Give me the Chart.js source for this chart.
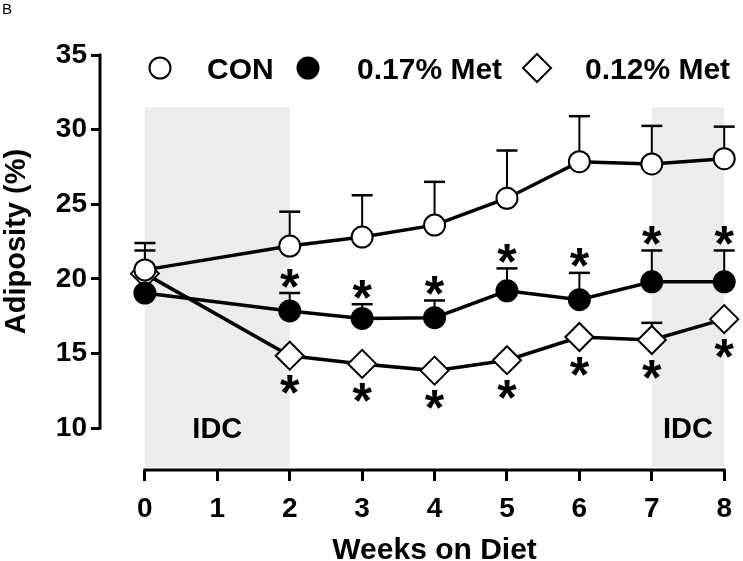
<!DOCTYPE html>
<html>
<head>
<meta charset="utf-8">
<script src="https://cdn.jsdelivr.net/npm/chart.js@4.4.1/dist/chart.umd.min.js"></script>
<style>
  html, body { margin: 0; padding: 0; background: #fff; }
  #wrap { position: relative; width: 743px; height: 561px; }
</style>
</head>
<body>
<div id="wrap"><canvas id="adiposityChart"></canvas></div>
<script>
// Weeks on diet and axis ticks
const weeks = [0, 2, 3, 4, 5, 6, 7, 8];
const xTicks = [0, 1, 2, 3, 4, 5, 6, 7, 8];
const yTicks = [10, 15, 20, 25, 30, 35];

// Adiposity (%) : mean and SEM (upper bar only)
const conMean   = [20.6, 22.2, 22.8, 23.6, 25.4, 27.85, 27.7, 28.05];
const conSem    = [1.8, 2.3, 2.8, 2.9, 3.2, 3.05, 2.55, 2.15];
const met17Mean = [19.05, 17.85, 17.35, 17.4, 19.2, 18.6, 19.8, 19.8];
const met17Sem  = [0, 1.2, 0.95, 1.15, 1.5, 1.8, 2.1, 2.1];
const met12Mean = [20.35, 14.85, 14.3, 13.85, 14.55, 16.1, 15.9, 17.3];
const met12Sem  = [1.55, 0, 0, 0, 0, 0, 1.15, 0];

// significance vs CON
const met17Sig = [0, 1, 1, 1, 1, 1, 1, 1];
const met12Sig = [0, 1, 1, 1, 1, 1, 1, 1];

// IDC periods (weeks)
const idcRanges = [[0, 2], [7, 8]];
const idcTop = 31.5;

const seriesNames = ['CON', '0.17% Met', '0.12% Met'];
const sems = [conSem, met17Sem, met12Sem];
const sigs = [null, met17Sig, met12Sig];

const FONT = '"Liberation Sans", Arial, Helvetica, sans-serif';

function pts(vals) {
  return weeks.map((w, i) => ({ x: w, y: vals[i] }));
}

function line(ctx, x1, y1, x2, y2) {
  ctx.beginPath();
  ctx.moveTo(x1, y1);
  ctx.lineTo(x2, y2);
  ctx.stroke();
}

function marker(ctx, style, fill, x, y) {
  ctx.save();
  ctx.lineWidth = 2;
  ctx.strokeStyle = '#000';
  ctx.fillStyle = fill;
  ctx.beginPath();
  if (style === 'rectRot') {
    const r = 14;
    ctx.moveTo(x - r, y); ctx.lineTo(x, y - r); ctx.lineTo(x + r, y); ctx.lineTo(x, y + r);
    ctx.closePath();
  } else {
    ctx.arc(x, y, 10.5, 0, Math.PI * 2);
  }
  ctx.fill();
  ctx.stroke();
  ctx.restore();
}

function star(ctx, x, cy) {
  ctx.font = 'bold 50px ' + FONT;
  ctx.textAlign = 'center';
  ctx.textBaseline = 'alphabetic';
  const m = ctx.measureText('*');
  const base = cy + (m.actualBoundingBoxAscent - m.actualBoundingBoxDescent) / 2;
  ctx.fillText('*', x, base);
}

const overlay = {
  id: 'overlay',
  beforeDatasetsDraw(chart) {
    const { ctx, chartArea, scales: { x, y } } = chart;
    ctx.save();
    // grey IDC bands
    ctx.fillStyle = '#ececec';
    idcRanges.forEach(([a, b]) => {
      const x0 = x.getPixelForValue(a), x1 = x.getPixelForValue(b);
      const y0 = y.getPixelForValue(idcTop);
      ctx.fillRect(x0, y0, x1 - x0, chartArea.bottom - 3 - y0);
    });
    ctx.fillStyle = '#000';
    ctx.font = 'bold 29px ' + FONT;
    ctx.textAlign = 'center';
    ctx.textBaseline = 'alphabetic';
    idcRanges.forEach(([a, b]) => {
      ctx.fillText('IDC', x.getPixelForValue((a + b) / 2), y.getPixelForValue(10) + 10);
    });
    // error bars
    ctx.strokeStyle = '#000';
    chart.data.datasets.forEach((ds, i) => {
      ds.data.forEach((p, j) => {
        const s = sems[i][j];
        if (!s) return;
        const px = x.getPixelForValue(p.x);
        const py = y.getPixelForValue(p.y);
        const top = y.getPixelForValue(p.y + s);
        ctx.lineWidth = 2;
        line(ctx, px, py, px, top);
        ctx.lineWidth = 2.5;
        line(ctx, px - 10.5, top, px + 10.5, top);
      });
    });
    ctx.restore();
  },
  afterDatasetsDraw(chart) {
    const { ctx, chartArea, scales: { x, y } } = chart;
    ctx.save();
    ctx.fillStyle = '#000';
    // significance stars: above 0.17% Met bars, below 0.12% Met diamonds
    chart.data.datasets.forEach((ds, i) => {
      const sig = sigs[i];
      if (!sig) return;
      ds.data.forEach((p, j) => {
        if (!sig[j]) return;
        const px = x.getPixelForValue(p.x);
        if (i === 1) {
          star(ctx, px, y.getPixelForValue(p.y + sems[i][j]) - 15);
        } else {
          star(ctx, px, y.getPixelForValue(p.y) + 29);
        }
      });
    });
    // axis lines
    ctx.strokeStyle = '#000';
    ctx.lineWidth = 3;
    ctx.lineCap = 'square';
    line(ctx, chartArea.left, y.getPixelForValue(yTicks[0]), chartArea.left, y.getPixelForValue(yTicks[yTicks.length - 1]));
    line(ctx, x.getPixelForValue(xTicks[0]), chartArea.bottom, x.getPixelForValue(xTicks[xTicks.length - 1]), chartArea.bottom);
    ctx.lineCap = 'butt';

    // axis titles
    ctx.font = 'bold 30px ' + FONT;
    ctx.textAlign = 'center';
    ctx.textBaseline = 'alphabetic';
    ctx.fillText('Weeks on Diet', x.getPixelForValue(4), 559);
    ctx.save();
    const yMid = (y.getPixelForValue(yTicks[0]) + y.getPixelForValue(yTicks[yTicks.length - 1])) / 2;
    ctx.translate(25, yMid);
    ctx.rotate(-Math.PI / 2);
    ctx.font = 'bold 29px ' + FONT;
    ctx.fillText('Adiposity (%)', 0, 0);
    ctx.restore();

    // legend
    const legendItems = [
      { style: 'circle', fill: '#fff', mx: 160, tx: 207 },
      { style: 'circle', fill: '#000', mx: 308, tx: 357 },
      { style: 'rectRot', fill: '#fff', mx: 537, tx: 585 }
    ];
    ctx.font = 'bold 30px ' + FONT;
    ctx.textAlign = 'left';
    legendItems.forEach((it, i) => {
      marker(ctx, it.style, it.fill, it.mx, 68);
      ctx.fillStyle = '#000';
      ctx.fillText(seriesNames[i], it.tx, 79);
    });

    // panel letter
    ctx.font = '15px ' + FONT;
    ctx.fillText('B', 2, 14);
    ctx.restore();
  }
};

const ctx = document.getElementById('adiposityChart').getContext('2d');
const chart = new Chart(ctx, {
  type: 'line',
  data: {
    datasets: [
      {
        label: seriesNames[0],
        data: pts(conMean),
        borderColor: '#000',
        borderWidth: 3.5,
        pointStyle: 'circle',
        pointRadius: 10.5,
        pointBorderWidth: 2,
        pointBackgroundColor: '#fff',
        pointBorderColor: '#000',
        clip: false
      },
      {
        label: seriesNames[1],
        data: pts(met17Mean),
        borderColor: '#000',
        borderWidth: 3.5,
        pointStyle: 'circle',
        pointRadius: 10.5,
        pointBorderWidth: 2,
        pointBackgroundColor: '#000',
        pointBorderColor: '#000',
        clip: false
      },
      {
        label: seriesNames[2],
        data: pts(met12Mean),
        borderColor: '#000',
        borderWidth: 3.5,
        pointStyle: 'rectRot',
        pointRadius: 14,
        pointBorderWidth: 2,
        pointBackgroundColor: '#fff',
        pointBorderColor: '#000',
        clip: false
      }
    ]
  },
  options: {
    responsive: true,
    maintainAspectRatio: false,
    animation: false,
    devicePixelRatio: 1,
    layout: { padding: { top: 55, right: 16, left: 0, bottom: 0 } },
    plugins: {
      legend: { display: false },
      tooltip: { enabled: false }
    },
    scales: {
      x: {
        type: 'linear',
        min: -0.62,
        max: 8,
        afterBuildTicks: s => { s.ticks = xTicks.map(v => ({ value: v })); },
        afterFit: s => { s.height = 91; },
        border: { display: false },
        grid: {
          drawOnChartArea: false,
          drawTicks: true,
          tickLength: 11,
          tickWidth: 3,
          tickColor: '#000'
        },
        ticks: {
          color: '#000',
          font: { family: FONT, size: 28, weight: 'bold' },
          padding: 11,
          maxRotation: 0,
          autoSkip: false
        }
      },
      y: {
        min: 7.19,
        max: 35,
        afterBuildTicks: s => { s.ticks = yTicks.map(v => ({ value: v })); },
        afterFit: s => { s.width = 100; },
        border: { display: false },
        grid: {
          drawOnChartArea: false,
          drawTicks: true,
          tickLength: 9,
          tickWidth: 3,
          tickColor: '#000'
        },
        ticks: {
          color: '#000',
          font: { family: FONT, size: 28, weight: 'bold' },
          padding: 4
        }
      }
    }
  },
  plugins: [overlay]
});
</script>
</body>
</html>
